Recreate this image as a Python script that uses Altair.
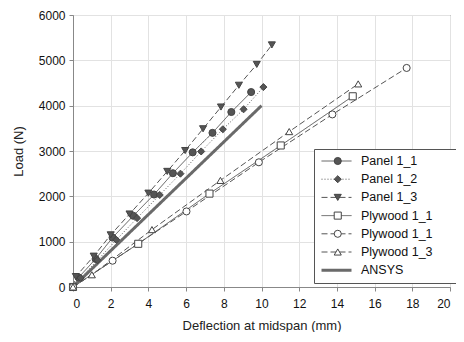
import altair as alt
import pandas as pd

series_names = ["Panel 1_1", "Panel 1_2", "Panel 1_3", "Plywood 1_1", "Plywood 1_1 (b)", "Plywood 1_3", "ANSYS"]

p11_x = [0, 0.3, 1.2, 2.1, 3.2, 4.3, 5.3, 6.35, 7.4, 8.4, 9.45]
p11_y = [0, 210, 620, 1090, 1570, 2040, 2510, 2970, 3400, 3860, 4300]
p12_x = [0, 0.4, 1.3, 2.3, 3.4, 4.6, 5.7, 6.8, 7.95, 9.05, 10.1]
p12_y = [0, 200, 590, 1040, 1520, 2030, 2500, 2990, 3480, 3920, 4410]
p13_x = [0, 0.15, 1.1, 2.0, 3.0, 4.0, 5.0, 5.95, 6.9, 7.85, 8.8, 9.75, 10.55]
p13_y = [0, 230, 680, 1150, 1610, 2070, 2550, 3010, 3490, 3970, 4450, 4910, 5340]
ply11_x = [0, 3.46, 7.24, 11.02, 14.84]
ply11_y = [0, 953, 2060, 3122, 4207]
ply11b_x = [0, 2.1, 6.02, 9.86, 13.76, 17.7]
ply11b_y = [0, 580, 1667, 2751, 3807, 4832]
ply13_x = [0, 1.0, 4.19, 7.82, 11.47, 15.13]
ply13_y = [0, 270, 1266, 2351, 3428, 4480]
ansys_x = [0, 10]
ansys_y = [0, 4000]

x_ticks = [0, 2, 4, 6, 8, 10, 12, 14, 16, 18, 20]
y_ticks = [0, 1000, 2000, 3000, 4000, 5000, 6000]

series_data = [
    ("Panel 1_1", p11_x, p11_y),
    ("Panel 1_2", p12_x, p12_y),
    ("Panel 1_3", p13_x, p13_y),
    ("Plywood 1_1", ply11_x, ply11_y),
    ("Plywood 1_1 (b)", ply11b_x, ply11b_y),
    ("Plywood 1_3", ply13_x, ply13_y),
    ("ANSYS", ansys_x, ansys_y),
]
rows = []
for name, xs, ys in series_data:
    for i, (a, b) in enumerate(zip(xs, ys)):
        rows.append({"series": name, "marker": name, "defl": a, "load": b, "order": i})
df = pd.DataFrame(rows)
df_pts = df[df["series"] != "ANSYS"]

marker_names = series_names[:6]
line_dash = [[1, 0], [1, 2], [6, 3], [1, 0], [6, 3], [6, 3], [1, 0]]
line_width = [1, 1, 1, 1, 1, 1, 3]
line_color = ["#555555"] * 6 + ["#6a6a6a"]
marker_shape = ["circle", "diamond", "triangle-down", "square", "circle", "triangle-up"]
marker_fill = ["#555555", "#555555", "#555555", "white", "white", "white"]
marker_stroke = ["#444444"] * 6

FONT = "Liberation Sans"
LX, LY, PAD, CH, RP = 241, 134, 6, 12, 5.2
label_expr = "replace(datum.label, ' (b)', '')"

legA = alt.Legend(
    title="MM", titleOrient="right", titleOpacity=0, titleFontSize=11, titlePadding=0,
    orient="none", legendX=LX, legendY=LY, symbolType="stroke",
    symbolSize=900, clipHeight=CH, rowPadding=RP, padding=PAD,
    strokeColor="#555555", fillColor="white", labelFont=FONT, labelFontSize=12.5,
    labelColor="#111111", labelOffset=8, labelExpr=label_expr, zindex=0,
)
legB = alt.Legend(
    title=None, orient="none", legendX=LX + 15 - 3.5, legendY=LY,
    symbolSize=50, clipHeight=CH, rowPadding=RP, padding=PAD,
    symbolStrokeWidth=1,
    labelFont=FONT, labelFontSize=12.5, labelOpacity=0, labelExpr="'\u00a0'", zindex=1,
)

x_axis = alt.Axis(values=x_ticks, format="d", labelOverlap=False, labelSeparation=0,
                  title="Deflection at midspan  (mm)")
y_axis = alt.Axis(values=y_ticks, format="d", labelOverlap=False, title="Load (N)")

lines = alt.Chart(df).mark_line(strokeCap="butt").encode(
    x=alt.X("defl:Q", scale=alt.Scale(domain=[0, 20], nice=False), axis=x_axis),
    y=alt.Y("load:Q", scale=alt.Scale(domain=[0, 6000], nice=False), axis=y_axis),
    order="order:Q",
    color=alt.Color("series:N", scale=alt.Scale(domain=series_names, range=line_color), legend=legA),
    strokeDash=alt.StrokeDash("series:N", scale=alt.Scale(domain=series_names, range=line_dash), legend=legA),
    strokeWidth=alt.StrokeWidth("series:N", scale=alt.Scale(type="ordinal", domain=series_names, range=line_width), legend=legA),
)

points = alt.Chart(df_pts).mark_point(filled=False, size=50, strokeWidth=1, opacity=1).encode(
    x=alt.X("defl:Q", axis=x_axis),
    y=alt.Y("load:Q", axis=y_axis),
    shape=alt.Shape("marker:N", scale=alt.Scale(domain=marker_names, range=marker_shape), legend=legB),
    fill=alt.Fill("marker:N", scale=alt.Scale(domain=marker_names, range=marker_fill), legend=legB),
    stroke=alt.Stroke("marker:N", scale=alt.Scale(domain=marker_names, range=marker_stroke), legend=legB),
)

chart = alt.layer(lines, points).properties(
    width=377, height=272,
    autosize=alt.AutoSizeParams(type="none"),
    padding={"left": 65, "top": 7, "right": 6, "bottom": 45},
).configure_view(stroke="#555555", strokeWidth=1).configure_axis(
    labelFont=FONT, titleFont=FONT, labelFontSize=12, titleFontSize=13,
    labelColor="#111111", titleColor="#222222", titleFontWeight="normal",
    gridColor="#e2e2e2", gridWidth=1, domainColor="#888888", tickColor="#888888",
    tickSize=4, labelOverlap=False,
).configure_axisX(labelPadding=7, titlePadding=10).configure_axisY(labelPadding=4, titlePadding=13)

chart.save("out.html", embed_options={"renderer": "svg", "actions": False})
